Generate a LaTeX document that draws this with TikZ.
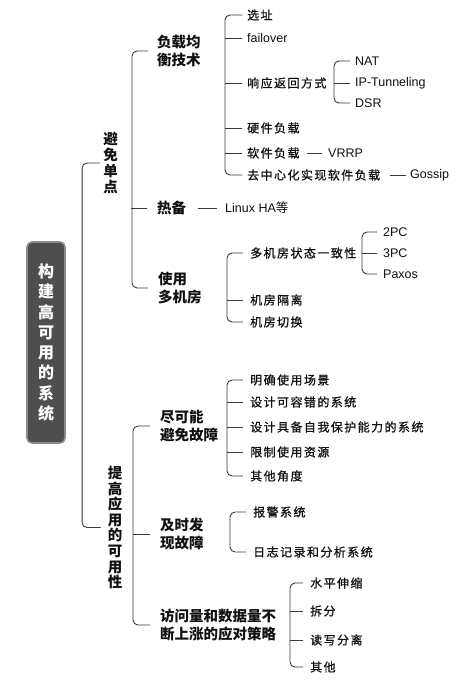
\documentclass[tikz,border=0pt]{standalone}
\usepackage{fontspec}
\setmainfont{Liberation Sans}
\newfontfamily\cjk{Noto Sans CJK SC}
\newfontfamily\cjkwide[LetterSpace=12, FakeBold=0.8]{Noto Sans CJK SC}
\usetikzlibrary{positioning}
\definecolor{ink}{HTML}{111111}
\definecolor{wire}{HTML}{3A3A3A}
\definecolor{rootfill}{HTML}{4E4E4E}
\definecolor{rootedge}{HTML}{8C8C8C}
\tikzset{
  every node/.style={inner sep=0pt, text=ink},
  rootbox/.style={draw=rootedge, fill=rootfill, line width=1.6pt, rounded corners=5pt, minimum width=38pt, minimum height=201pt, text=white, align=center, font=\cjk\bfseries\fontsize{16}{20.3}\selectfont},
  major/.style={align=center, font=\cjk\bfseries\fontsize{14.5}{16}\selectfont},
  topic/.style={anchor=west, align=left, font=\cjk\bfseries\fontsize{14.5}{18}\selectfont},
  leaf/.style={anchor=west, font=\cjkwide\fontsize{12}{14}\selectfont},
  term/.style={anchor=west, font=\fontsize{12.5}{14}\selectfont},
  link/.style={draw=wire, line width=0.9pt, rounded corners=5pt},
}
\begin{document}
\begin{tikzpicture}[x=1pt, y=-1pt]
\fill[white] (0,0) rectangle (470,680);
\useasboundingbox (0,0) rectangle (470,680);
% root and first level
\node[rootbox] (root) at (46,342.5) {构\\建\\高\\可\\用\\的\\系\\统};
\node[major] (avoid) at (110.5,163) {避\\免\\单\\点};
\node[major, font=\cjk\bfseries\fontsize{14.5}{15.6}\selectfont] (improve) at (115,527.5) {提\\高\\应\\用\\的\\可\\用\\性};
\draw[link] ([xshift=-3pt]avoid.west) -- ++(-18,0) |- ([xshift=-7pt]improve.west);
% avoid single point
\node[topic] (lb) at (157,51) {负载均\\衡技术};
\node[topic] (hot) at (157,208) {热备};
\node[topic] (multi) at (158,288) {使用\\多机房};
\draw[link] ([xshift=-9pt]lb.west) -- ++(-16,0) |- ([xshift=-10pt]multi.west);
\draw[link] ([xshift=-10pt]hot.west) -- ++(-16,0);
% load balancing
\node[leaf] (addr) at (247,15) {选址};
\node[term] (fo) at (247,38) {failover};
\node[leaf] (resp) at (247,83) {响应返回方式};
\node[leaf] (hw) at (247,128) {硬件负载};
\node[leaf] (soft) at (247,153) {软件负载};
\node[leaf] (dec) at (247,175) {去中心化实现软件负载};
\draw[link] ([xshift=-5pt]addr.west) -- ++(-17,0) |- ([xshift=-5pt]dec.west);
\foreach \c in {fo,resp,hw,soft} \draw[link] ([xshift=-5pt]\c.west) -- ++(-17,0);
\node[term] (nat) at (355,61) {NAT};
\node[term] (ipt) at (355,83) {IP-Tunneling};
\node[term] (dsr) at (355,103) {DSR};
\draw[link] ([xshift=-5pt]nat.west) -- ++(-16,0) |- ([xshift=-5pt]dsr.west);
\draw[link] ([xshift=-5pt]ipt.west) -- ++(-16,0);
\node[term] (vrrp) at (328,153) {VRRP};
\node[term] (gossip) at (410,175) {Gossip};
\draw[link] ([xshift=7pt]soft.east) -- ([xshift=-6pt]vrrp.west);
\draw[link] ([xshift=10pt]dec.east) -- ([xshift=-4pt]gossip.west);
% hot standby
\node[term] (linux) at (225,208) {Linux HA{\cjk 等}};
\draw[link] ([xshift=12pt]hot.east) -- ([xshift=-8pt]linux.west);
% multiple data centres
\node[leaf] (cons) at (250,253) {多机房状态一致性};
\node[leaf] (iso) at (250,300) {机房隔离};
\node[leaf] (swap) at (250,322) {机房切换};
\draw[link] ([xshift=-7pt]cons.west) -- ++(-16,0) |- ([xshift=-7pt]swap.west);
\draw[link] ([xshift=-7pt]iso.west) -- ++(-16,0);
\node[term] (pc2) at (383,232) {2PC};
\node[term] (pc3) at (383,253) {3PC};
\node[term] (paxos) at (383,274) {Paxos};
\draw[link] ([xshift=-6pt]pc2.west) -- ++(-15,0) |- ([xshift=-6pt]paxos.west);
\draw[link] ([xshift=-6pt]pc3.west) -- ++(-15,0);
% improve availability
\node[topic] (prevent) at (160,426) {尽可能\\避免故障};
\node[topic] (detect) at (160,534) {及时发\\现故障};
\node[topic] (scale) at (160,625) {访问量和数据量不\\断上涨的应对策略};
\draw[link] ([xshift=-10pt]prevent.west) -- ++(-17,0) |- ([xshift=-10pt]scale.west);
\draw[link] ([xshift=-10pt]detect.west) -- ++(-17,0);
\node[leaf] (p1) at (250,380) {明确使用场景};
\node[leaf] (p2) at (250,402) {设计可容错的系统};
\node[leaf] (p3) at (250,427) {设计具备自我保护能力的系统};
\node[leaf] (p4) at (250,452) {限制使用资源};
\node[leaf] (p5) at (250,476) {其他角度};
\draw[link] ([xshift=-7pt]p1.west) -- ++(-16,0) |- ([xshift=-7pt]p5.west);
\foreach \c in {p2,p3,p4} \draw[link] ([xshift=-7pt]\c.west) -- ++(-16,0);
\node[leaf] (d1) at (253,512) {报警系统};
\node[leaf] (d2) at (253,552) {日志记录和分析系统};
\draw[link] ([xshift=-7pt]d1.west) -- ++(-16,0) |- ([xshift=-7pt]d2.west);
\node[leaf] (s1) at (310,583) {水平伸缩};
\node[leaf] (s2) at (310,611) {拆分};
\node[leaf] (s3) at (310,640) {读写分离};
\node[leaf] (s4) at (310,667) {其他};
\draw[link] ([xshift=-7pt]s1.west) -- ++(-13,0) |- ([xshift=-7pt]s4.west);
\foreach \c in {s2,s3} \draw[link] ([xshift=-7pt]\c.west) -- ++(-13,0);
\end{tikzpicture}
\end{document}
